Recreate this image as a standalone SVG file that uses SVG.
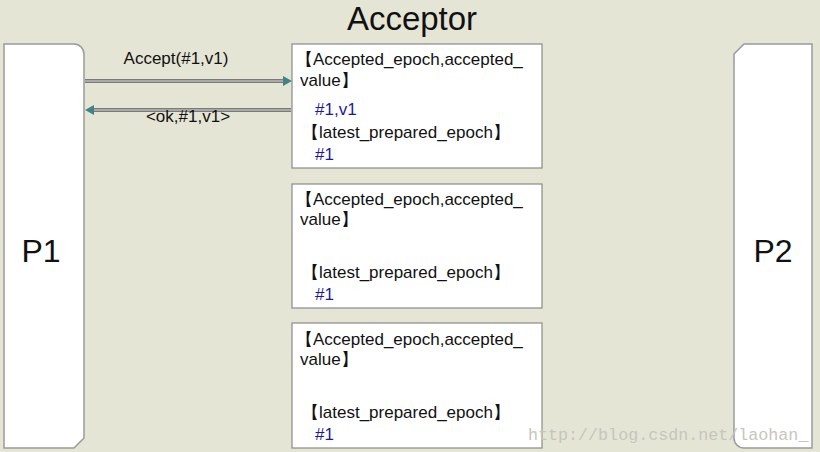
<svg xmlns="http://www.w3.org/2000/svg" width="820" height="452" viewBox="0 0 820 452">
<style>
.lbl{font-family:"Liberation Sans",Arial,sans-serif;font-size:17px;fill:#111}
.val{font-family:"Liberation Sans",Arial,sans-serif;font-size:17px;fill:#1a1aa0}
.big{font-family:"Liberation Sans",Arial,sans-serif;fill:#111}
.box{fill:#fff;stroke:#8a8a8a;stroke-width:1.2}
.proc{fill:#fff;stroke:#9a9a9a;stroke-width:1.5}
.lineOuter{stroke:#7a7a7a;stroke-width:4;fill:none}
.lineInner{stroke:#d8d8d8;stroke-width:1.2;fill:none}
</style>
<rect x="0" y="0" width="820" height="452" fill="#e5e5d5"/>
<g id="title"><text class="big" x="412" y="30" font-size="33" text-anchor="middle">Acceptor</text></g>
<g id="P1">
<path class="proc" d="M4,44 H74 A10,10 0 0 1 84,54 V438 L74,448 H4 Z"/>
<text class="big" x="41" y="262" font-size="32" text-anchor="middle">P1</text>
</g>
<g id="P2">
<path class="proc" d="M744,44 H812 V448 H744 A10,10 0 0 1 734,438 V54 Z"/>
<text class="big" x="773" y="262" font-size="32" text-anchor="middle">P2</text>
</g>
<g id="acc1">
<rect class="box" x="292" y="44" width="250" height="124"/>
<text class="lbl" x="296" y="65">【Accepted_epoch,accepted_</text>
<text class="lbl" x="300" y="86">value】</text>
<text class="val" x="315" y="115">#1,v1</text>
<text class="lbl" x="302" y="138">【latest_prepared_epoch】</text>
<text class="val" x="315" y="160">#1</text>
</g>
<g id="acc2">
<rect class="box" x="292" y="184" width="250" height="124"/>
<text class="lbl" x="296" y="205">【Accepted_epoch,accepted_</text>
<text class="lbl" x="300" y="225">value】</text>
<text class="lbl" x="302" y="278">【latest_prepared_epoch】</text>
<text class="val" x="315" y="300">#1</text>
</g>
<g id="acc3">
<rect class="box" x="292" y="323" width="250" height="125"/>
<text class="lbl" x="296" y="345">【Accepted_epoch,accepted_</text>
<text class="lbl" x="300" y="365">value】</text>
<text class="lbl" x="302" y="418">【latest_prepared_epoch】</text>
<text class="val" x="315" y="440">#1</text>
</g>
<g id="connectors">
<line class="lineOuter" x1="85" y1="81" x2="284" y2="81"/>
<line class="lineInner" x1="85" y1="81" x2="284" y2="81"/>
<path d="M283,76 L292,81 L283,86 Z" fill="#3f8585"/>
<text class="lbl" x="176" y="64" text-anchor="middle">Accept(#1,v1)</text>
<line class="lineOuter" x1="291" y1="110" x2="93" y2="110"/>
<line class="lineInner" x1="291" y1="110" x2="93" y2="110"/>
<path d="M94,105 L85,110 L94,115 Z" fill="#3f8585"/>
<text class="lbl" x="188" y="122" text-anchor="middle">&lt;ok,#1,v1&gt;</text>
</g>
<text x="528" y="440" font-family="'Liberation Mono','DejaVu Sans Mono',monospace" font-size="16.7" fill="#c6c6be">http://blog.csdn.net/laohan_</text>
</svg>
